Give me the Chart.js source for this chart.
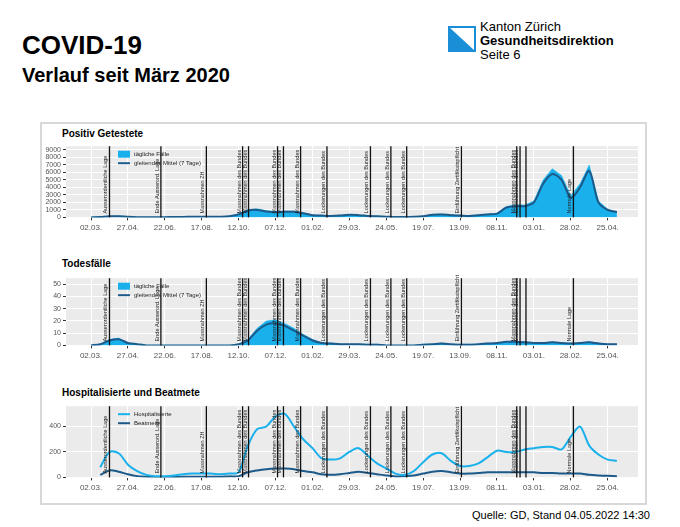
<!DOCTYPE html>
<html>
<head>
<meta charset="utf-8">
<script src="https://cdn.jsdelivr.net/npm/chart.js@4.4.1/dist/chart.umd.min.js"></script>
<style>
  body { margin: 0; width: 680px; height: 527px; background: #fff; font-family: "Liberation Sans", Arial, sans-serif; position: relative; overflow: hidden; }
  .abs { position: absolute; }
  h1 { position: absolute; left: 22px; top: 30px; margin: 0; font-size: 26px; font-weight: 900; }
  h2 { position: absolute; left: 22px; top: 64px; margin: 0; font-size: 20px; font-weight: 900; }
  #frame { position: absolute; left: 40px; top: 122px; width: 607px; height: 383px; border: 2px solid #d8d8d8; box-sizing: border-box; }
  .ptitle { position: absolute; left: 62px; font-size: 10px; font-weight: bold; }
  canvas { display: block; }
</style>
</head>
<body>
<h1>COVID-19</h1>
<h2>Verlauf seit März 2020</h2>
<svg class="abs" style="left:448px;top:26px" width="28" height="26">
  <rect x="1" y="1" width="26" height="24" fill="#fff" stroke="#1a8fd8" stroke-width="2"/>
  <polygon points="1,1 27,25 1,25" fill="#1a8fd8"/>
</svg>
<div class="abs" style="left:480px;top:20px;font-size:13px;line-height:14px">Kanton Zürich<br><b>Gesundheitsdirektion</b><br>Seite 6</div>
<div id="frame"></div>
<div class="ptitle" style="top:128px">Positiv Getestete</div>
<div class="ptitle" style="top:258px">Todesfälle</div>
<div class="ptitle" style="top:387px">Hospitalisierte und Beatmete</div>
<div class="abs" style="left:42px;top:140px;width:600px;height:96px"><canvas id="c1"></canvas></div>
<div class="abs" style="left:42px;top:272px;width:600px;height:92px"><canvas id="c2"></canvas></div>
<div class="abs" style="left:42px;top:400px;width:600px;height:96px"><canvas id="c3"></canvas></div>
<div class="abs" style="left:472px;top:509px;font-size:11px">Quelle: GD, Stand 04.05.2022 14:30</div>
<script>
// days since 02.03.2020, sampled every 14 days
const tickDays = [0, 56, 112, 168, 224, 280, 336, 392, 448, 504, 560, 616, 672, 728, 784];
const tickLabels = ['02.03.', '27.04.', '22.06.', '17.08.', '12.10.', '07.12.', '01.02.', '29.03.', '24.05.', '19.07.', '13.09.', '08.11.', '03.01.', '28.02.', '25.04.'];

const eventDays = [28, 106, 175, 230, 239, 283, 292, 318, 358, 424, 455, 479, 562, 646, 651, 660, 732];
const eventLabels = ['Ausserordentliche Lage', 'Ende Ausserord. Lage', 'Massnahmen ZH', 'Massnahmen des Bundes', 'Massnahmen des Bundes',
  'Massnahmen des Bundes', 'Massnahmen des Bundes', 'Massnahmen des Bundes', 'Lockerungen des Bundes', 'Lockerungen des Bundes',
  'Lockerungen des Bundes', 'Lockerungen des Bundes', 'Einführung Zertifikatspflicht', 'Massnahmen des Bundes', 'Massnahmen des Bundes', '', 'Normale Lage'];

const y1Ticks = [0, 1000, 2000, 3000, 4000, 5000, 6000, 7000, 8000, 9000];
const y2Ticks = [0, 10, 20, 30, 40, 50];
const y3Ticks = [0, 200, 400];

const casesDaily = [0, 70, 180, 170, 90, 35, 12, 18, 35, 55, 80, 90, 100, 90, 100, 170, 480, 1050, 1150, 900, 800, 850, 850, 620,
  340, 280, 220, 280, 400, 340, 220, 160, 110, 55, 55, 90, 170, 400, 450, 340, 280, 220, 330, 450, 560, 1450, 1700, 1650, 2200,
  5000, 6500, 5600, 2900, 4500, 7000, 2200, 1100, 750];
const casesAvg = [0, 50, 150, 150, 80, 30, 10, 15, 30, 50, 70, 80, 90, 80, 90, 150, 400, 900, 1000, 800, 700, 750, 750, 550,
  300, 250, 200, 250, 350, 300, 200, 150, 100, 50, 50, 80, 150, 350, 400, 300, 250, 200, 300, 400, 500, 1300, 1500, 1500, 2000,
  4500, 5800, 5000, 2600, 4000, 6200, 2000, 1000, 700];

const deathsDaily = [0, 1, 5, 6, 2, 1, 0, 0, 0, 0, 0, 0, 0, 0, 0, 0, 1, 5, 14, 20, 21, 18, 14, 9,
  5, 2, 2, 1, 1, 1, 1, 1, 0, 0, 0, 0, 1, 1, 2, 1, 1, 1, 1, 2, 2, 3, 3, 3, 2, 2, 3, 2, 2, 2, 3, 2, 1, 1];
const deathsAvg = [0, 1, 4, 5, 2, 1, 0, 0, 0, 0, 0, 0, 0, 0, 0, 0, 1, 4, 12, 17, 18, 16, 12, 8,
  4, 2, 1.5, 1, 1, 1, 0.5, 0.5, 0, 0, 0, 0, 0.5, 1, 1.5, 1, 0.5, 0.5, 1, 1.5, 2, 3, 3, 2.5, 2, 2, 2.5, 2, 1.5, 2, 2.5, 1.5, 1, 1];

const hosp = [null, 80, 200, 190, 100, 50, 20, 10, 10, 15, 25, 30, 30, 30, 25, 30, 40, 250, 380, 400, 480, 500, 400, 300,
  230, 150, 140, 150, 200, 230, 170, 110, 70, 30, 20, 50, 120, 180, 190, 130, 90, 90, 110, 160, 210, 200, 200, 220, 230,
  240, 240, 220, 320, 400, 250, 180, 140, 130];
const vent = [null, 20, 55, 45, 25, 10, 5, 3, 3, 3, 5, 5, 5, 5, 5, 8, 10, 40, 55, 65, 70, 70, 65, 50,
  40, 25, 20, 25, 35, 45, 35, 25, 15, 8, 10, 15, 30, 45, 50, 40, 30, 30, 35, 40, 40, 40, 40, 40, 40,
  35, 35, 30, 30, 30, 20, 15, 12, 10];

const light = '#19b0ec';
const dark = '#1c5a8a';

function xy(arr) { return arr.map((v, i) => ({ x: i * 14, y: v })); }

const ggPlugin = {
  id: 'gg',
  beforeDraw(chart) {
    const a = chart.chartArea, ctx = chart.ctx;
    ctx.save();
    ctx.fillStyle = '#ebebeb';
    ctx.fillRect(a.left, a.top, a.right - a.left, a.bottom - a.top);
    ctx.restore();
  },
  afterDatasetsDraw(chart) {
    const a = chart.chartArea, ctx = chart.ctx, xs = chart.scales.x;
    ctx.save();
    eventDays.forEach((d, i) => {
      const px = xs.getPixelForValue(d);
      ctx.strokeStyle = '#111';
      ctx.lineWidth = 1.3;
      ctx.beginPath(); ctx.moveTo(px, a.top); ctx.lineTo(px, a.bottom); ctx.stroke();
      ctx.save();
      ctx.translate(px - 2, a.bottom - 4);
      ctx.rotate(-Math.PI / 2);
      ctx.fillStyle = '#222';
      ctx.font = '5.5px "Liberation Sans", Arial';
      ctx.textAlign = 'left';
      ctx.fillText(eventLabels[i], 0, 0);
      ctx.restore();
    });
    const items = chart.options.plugins.ggLegend.items;
    items.forEach((it, k) => {
      const lx = a.left + 52, ly = a.top + 8 + k * 9;
      if (it.box) { ctx.fillStyle = it.color; ctx.fillRect(lx, ly - 3.5, 12, 7); }
      else { ctx.strokeStyle = it.color; ctx.lineWidth = 2; ctx.beginPath(); ctx.moveTo(lx, ly); ctx.lineTo(lx + 12, ly); ctx.stroke(); }
      ctx.fillStyle = '#222';
      ctx.font = '6px "Liberation Sans", Arial';
      ctx.textBaseline = 'middle';
      ctx.fillText(it.text, lx + 16, ly);
    });
    ctx.restore();
  }
};

function makeChart(id, datasets, yMax, yTicks, legendItems) {
  return new Chart(document.getElementById(id), {
    type: 'line',
    data: { datasets },
    plugins: [ggPlugin],
    options: {
      animation: false,
      maintainAspectRatio: false,
      layout: { padding: { left: 0, right: 4 } },
      elements: { point: { radius: 0 }, line: { tension: 0.3 } },
      plugins: { legend: { display: false }, tooltip: { enabled: false }, ggLegend: { items: legendItems } },
      scales: {
        x: {
          type: 'linear', min: -38, max: 830,
          afterBuildTicks(s) { s.ticks = tickDays.map(v => ({ value: v })); },
          ticks: { autoSkip: false, maxRotation: 0, color: '#555', font: { size: 8 },
            callback: (v) => tickLabels[tickDays.indexOf(v)] },
          grid: { color: '#fff', lineWidth: 1, tickColor: '#333', tickLength: 3 },
          border: { display: false }
        },
        y: {
          min: 0, max: yMax,
          afterFit(s) { s.width = 24; },
          afterBuildTicks(s) { s.ticks = yTicks.map(v => ({ value: v })); },
          ticks: { autoSkip: false, padding: 2, color: '#555', font: { size: 7 }, callback: (v) => String(v) },
          grid: { color: '#fff', lineWidth: 1, tickColor: '#333', tickLength: 3 },
          border: { display: false }
        }
      }
    }
  });
}

makeChart('c1', [
  { data: xy(casesAvg), borderWidth: 2, borderColor: dark },
  { data: xy(casesDaily), borderWidth: 0.5, borderColor: light, backgroundColor: light, fill: 'origin', tension: 0 }
], 9500, y1Ticks,
  [{ box: true, color: light, text: 'tägliche Fälle' }, { box: false, color: dark, text: 'gleitendes Mittel (7 Tage)' }]);

makeChart('c2', [
  { data: xy(deathsAvg), borderWidth: 2, borderColor: dark },
  { data: xy(deathsDaily), borderWidth: 0.5, borderColor: light, backgroundColor: light, fill: 'origin', tension: 0 }
], 55, y2Ticks,
  [{ box: true, color: light, text: 'tägliche Fälle' }, { box: false, color: dark, text: 'gleitendes Mittel (7 Tage)' }]);

makeChart('c3', [
  { data: xy(hosp), borderWidth: 2, borderColor: light },
  { data: xy(vent), borderWidth: 2, borderColor: dark }
], 560, y3Ticks,
  [{ box: false, color: light, text: 'Hospitalisierte' }, { box: false, color: dark, text: 'Beatmete' }]);
</script>
</body>
</html>
